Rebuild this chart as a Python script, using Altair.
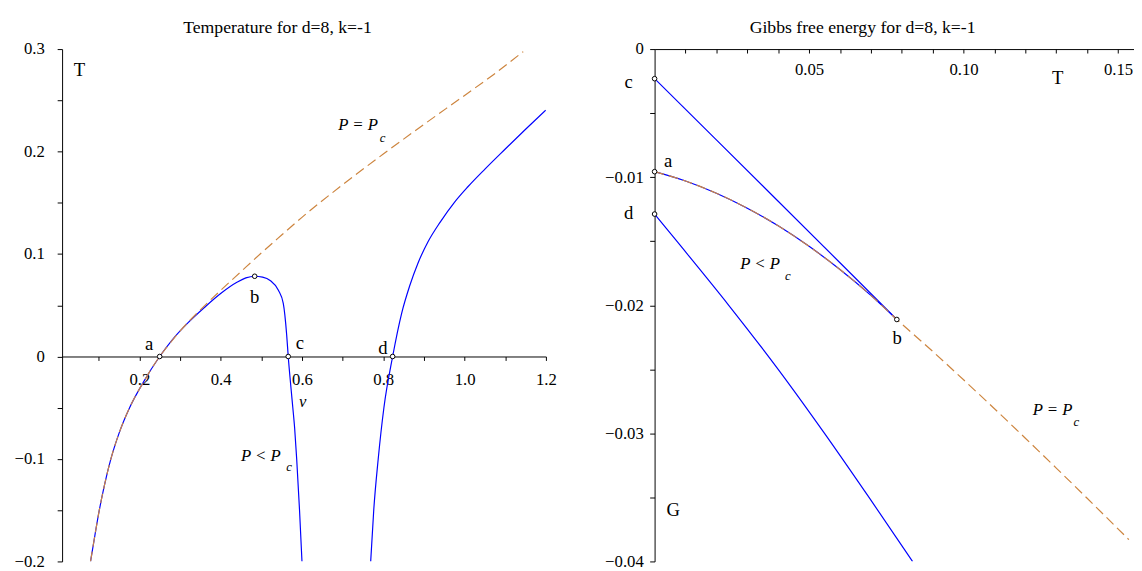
import altair as alt
import pandas as pd

# ---------------- Left panel: Temperature T(v) ----------------
L_BLUE1_V = [0.080, 0.0905, 0.1015, 0.1145, 0.130, 0.150, 0.176, 0.210, 0.250, 0.280,
             0.320, 0.360, 0.400, 0.441, 0.462, 0.4837, 0.503, 0.5217, 0.542, 0.554,
             0.5623, 0.5662, 0.5735, 0.5775, 0.582, 0.587, 0.594, 0.600]
L_BLUE1_T = [-0.200, -0.175, -0.150, -0.125, -0.100, -0.075, -0.050, -0.025, 0.000, 0.0158,
             0.0330, 0.0478, 0.0614, 0.0726, 0.0767, 0.0783, 0.0774, 0.0742, 0.0646, 0.0518,
             0.0215, 0.000, -0.033, -0.050, -0.070, -0.100, -0.150, -0.200]
L_BLUE2_V = [0.769, 0.7765, 0.7875, 0.8015, 0.823, 0.845, 0.865, 0.885, 0.910, 0.940,
             0.975, 1.0075, 1.050, 1.100, 1.150, 1.1994]
L_BLUE2_T = [-0.200, -0.150, -0.100, -0.050, 0.000, 0.0419, 0.0690, 0.0908, 0.1120, 0.1312,
             0.1505, 0.1654, 0.1829, 0.2025, 0.2218, 0.2404]
L_DASH_V = [0.080, 0.0905, 0.1015, 0.1145, 0.130, 0.150, 0.176, 0.210, 0.250, 0.280, 0.300,
            0.350, 0.400, 0.450, 0.500, 0.550, 0.600, 0.700, 0.800, 0.900, 1.000, 1.070, 1.144]
L_DASH_T = [-0.200, -0.175, -0.150, -0.125, -0.100, -0.075, -0.050, -0.025, 0.000, 0.0153, 0.0248,
            0.0455, 0.0645, 0.0828, 0.1010, 0.1185, 0.1358, 0.1676, 0.1976, 0.2265, 0.2548, 0.2748, 0.2975]
L_PTS_V = [0.250, 0.4837, 0.5662, 0.823]
L_PTS_T = [0.0, 0.0783, 0.0, 0.0]
L_LAB_TEXT = ["T", "a", "b", "c", "d"]
L_LAB_V = [0.053, 0.224, 0.4837, 0.5946, 0.799]
L_LAB_T = [0.2795, 0.0119, 0.0582, 0.0134, 0.0086]
L_IT_TEXT = ["P = P", "P < P", "v"]
L_IT_V = [0.738, 0.4987, 0.602]
L_IT_T = [0.2261, -0.0968, -0.0444]
L_SUB_TEXT = ["c", "c"]
L_SUB_V = [0.798, 0.568]
L_SUB_T = [0.2132, -0.108]
L_XTICKS = [0.1, 0.2, 0.3, 0.4, 0.5, 0.6, 0.7, 0.8, 0.9, 1.0, 1.1, 1.2]
L_YTICKS = [-0.2, -0.15, -0.1, -0.05, 0.0, 0.05, 0.1, 0.15, 0.2, 0.25, 0.3]

# ---------------- Right panel: Gibbs free energy G(T) ----------------
R_CB_T = [0.0, 0.02, 0.04, 0.06, 0.0784]
R_CB_G = [-0.00231, -0.00709, -0.01188, -0.01668, -0.02111]
R_AB_T = [0.0, 0.01, 0.02, 0.03, 0.04, 0.05, 0.06, 0.07, 0.0784]
R_AB_G = [-0.00957, -0.01030, -0.01125, -0.01242, -0.01380, -0.01540, -0.01721, -0.01923, -0.02111]
R_D_T = [0.0, 0.0072, 0.0240, 0.0400, 0.0550, 0.0694, 0.0835]
R_D_G = [-0.01288, -0.0150, -0.0200, -0.0250, -0.0300, -0.0350, -0.0400]
R_DASH_T = [0.0, 0.01, 0.02, 0.03, 0.04, 0.05, 0.06, 0.07, 0.0784,
            0.09, 0.10, 0.11, 0.12, 0.13, 0.14, 0.1535]
R_DASH_G = [-0.00957, -0.01030, -0.01125, -0.01242, -0.01380, -0.01540, -0.01721, -0.01923, -0.02111,
            -0.02360, -0.02582, -0.02808, -0.03038, -0.03271, -0.03507, -0.03830]
R_PTS_T = [0.0, 0.0, 0.0, 0.0784]
R_PTS_G = [-0.00957, -0.00231, -0.01288, -0.02111]
R_LAB_TEXT = ["c", "a", "d", "b", "T", "G"]
R_LAB_T = [-0.0084, 0.0044, -0.0084, 0.0785, 0.1305, 0.0060]
R_LAB_G = [-0.00259, -0.00877, -0.01282, -0.02257, -0.00226, -0.03603]
R_IT_TEXT = ["P < P", "P = P"]
R_IT_T = [0.03414, 0.1288]
R_IT_G = [-0.01680, -0.02821]
R_SUB_TEXT = ["c", "c"]
R_SUB_T = [0.04315, 0.1365]
R_SUB_G = [-0.01769, -0.02913]
R_XTICKS = [0.01, 0.02, 0.03, 0.04, 0.05, 0.06, 0.07, 0.08, 0.09, 0.10,
            0.11, 0.12, 0.13, 0.14, 0.15]
R_YTICKS = [-0.04, -0.035, -0.03, -0.025, -0.02, -0.015, -0.01, -0.005, 0.0]

FONT = "Liberation Serif"
BLUE = "#0000FF"
ORANGE = "#CD853F"
W1, W2, H = 492, 487, 521


def df(xs, ys, texts=None):
    d = {"x": xs, "y": ys}
    if texts is not None:
        d["s"] = texts
    return pd.DataFrame(d)


common_axis = dict(title=None, grid=False, domainColor="black", tickColor="black",
                   labelColor="black", labelFont=FONT, labelFontSize=17,
                   labelOverlap=False, labelFlush=False, domainWidth=1, tickWidth=1)

LX = alt.X("x:Q", scale=alt.Scale(domain=[0.01, 1.2], nice=False, zero=False),
           axis=alt.Axis(values=L_XTICKS, orient="bottom", offset=-208.4, tickSize=4,
                         labelPadding=11,
                         labelExpr="round(datum.value*10)%2==0 ? format(datum.value,'.1f') : ''",
                         **common_axis))
LY = alt.Y("y:Q", scale=alt.Scale(domain=[-0.2, 0.3], nice=False, zero=False),
           axis=alt.Axis(values=L_YTICKS, orient="left", tickSize=5, labelPadding=13,
                         labelExpr="round(datum.value*20)%2==0 ? (abs(datum.value)<1e-9 ? '0' : format(datum.value,'.1f')) : ''",
                         **common_axis))
RX = alt.X("x:Q", scale=alt.Scale(domain=[0.0, 0.155], nice=False, zero=False),
           axis=alt.Axis(values=R_XTICKS, orient="bottom", offset=-H, tickSize=4,
                         labelPadding=9,
                         labelExpr="round(datum.value*100)%5==0 ? format(datum.value,'.2f') : ''",
                         **common_axis))
RY = alt.Y("y:Q", scale=alt.Scale(domain=[-0.04, 0.0], nice=False, zero=False),
           axis=alt.Axis(values=R_YTICKS, orient="left", tickSize=5, labelPadding=6.5,
                         labelExpr="round(datum.value*200)%2==0 ? (abs(datum.value)<1e-9 ? '0' : format(datum.value,'.2f')) : ''",
                         **common_axis))


def line(d, X, Y, color, dash=None):
    kw = dict(color=color, strokeWidth=1.2, interpolate="monotone", clip=True)
    if dash:
        kw["strokeDash"] = dash
    return alt.Chart(d).mark_line(**kw).encode(x=X, y=Y)


def pts(d, X, Y):
    return alt.Chart(d).mark_point(shape="circle", size=22, filled=True, fill="white",
                                   stroke="black", strokeWidth=1, opacity=1).encode(x=X, y=Y)


def txt(d, X, Y, size, style="normal"):
    return alt.Chart(d).mark_text(font=FONT, fontSize=size, fontStyle=style, fontWeight="normal",
                                  color="black", align="center", baseline="middle").encode(
        x=X, y=Y, text="s:N")


left = alt.layer(
    line(df(L_BLUE1_V, L_BLUE1_T), LX, LY, BLUE),
    line(df(L_BLUE2_V, L_BLUE2_T), LX, LY, BLUE),
    line(df(L_DASH_V, L_DASH_T), LX, LY, ORANGE, [10, 5]),
    pts(df(L_PTS_V, L_PTS_T), LX, LY),
    txt(df(L_LAB_V, L_LAB_T, L_LAB_TEXT), LX, LY, 19),
    txt(df(L_IT_V, L_IT_T, L_IT_TEXT), LX, LY, 17, "italic"),
    txt(df(L_SUB_V, L_SUB_T, L_SUB_TEXT), LX, LY, 13, "italic"),
).properties(
    width=W1, height=H,
    title=alt.TitleParams("Temperature for d=8, k=-1", font=FONT, fontSize=18, fontWeight="normal",
                          color="black", baseline="alphabetic", offset=-10.6, dx=-27, anchor="middle"),
)

right = alt.layer(
    line(df(R_CB_T, R_CB_G), RX, RY, BLUE),
    line(df(R_AB_T, R_AB_G), RX, RY, BLUE),
    line(df(R_D_T, R_D_G), RX, RY, BLUE),
    line(df(R_DASH_T, R_DASH_G), RX, RY, ORANGE, [10, 5]),
    pts(df(R_PTS_T, R_PTS_G), RX, RY),
    txt(df(R_LAB_T, R_LAB_G, R_LAB_TEXT), RX, RY, 19),
    txt(df(R_IT_T, R_IT_G, R_IT_TEXT), RX, RY, 17, "italic"),
    txt(df(R_SUB_T, R_SUB_G, R_SUB_TEXT), RX, RY, 13, "italic"),
).properties(
    width=W2, height=H,
    title=alt.TitleParams("Gibbs free energy for d=8, k=-1", font=FONT, fontSize=18, fontWeight="normal",
                          color="black", baseline="alphabetic", offset=-10.6, dx=-32, anchor="middle"),
)

chart = alt.hconcat(left, right, spacing=110.5, bounds="flush").properties(
    padding={"left": 6, "top": 6, "right": 0, "bottom": 0}
).configure_view(stroke=None)

chart.save("out.html", embed_options={"renderer": "svg", "actions": False})
